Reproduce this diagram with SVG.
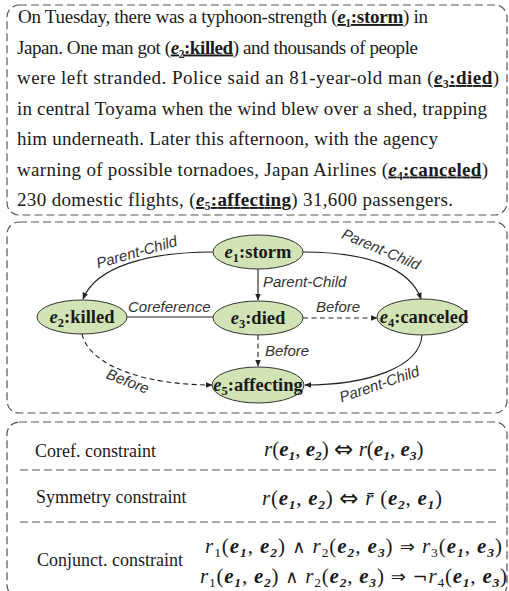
<svg xmlns="http://www.w3.org/2000/svg" width="509" height="591" viewBox="0 0 509 591">
<defs>
<style>
.box{fill:none;stroke:#555;stroke-width:1.2;stroke-dasharray:8 4}
.sep{fill:none;stroke:#555;stroke-width:1.2;stroke-dasharray:8 4}
.para{font-family:"Liberation Serif","Times New Roman",serif;font-size:19px;fill:#1a1a1a}
.m{font-weight:bold;text-decoration:underline}
.i{font-style:italic}
.sb{font-size:12.5px}
.node ellipse{fill:#d2e3b6;stroke:#333;stroke-width:1}
.nl{font-family:"Liberation Serif","Times New Roman",serif;font-size:18.5px;font-weight:bold;fill:#1a1a1a;text-anchor:middle}
.el{font-family:"Liberation Sans",Arial,sans-serif;font-size:15px;font-style:italic;fill:#333}
.edge{fill:none;stroke:#222;stroke-width:1.1}
.dash{stroke-dasharray:5 3.5}
.lab{font-family:"Liberation Serif","Times New Roman",serif;font-size:18px;fill:#1a1a1a}
.f{font-family:"Liberation Serif","DejaVu Serif",serif;font-size:21px;fill:#1a1a1a}
.fe{font-weight:bold;font-style:italic}
.fs{font-size:13.5px}
.op{font-family:"DejaVu Sans",sans-serif;font-size:18px}
.dop{font-family:"DejaVu Sans",sans-serif;font-size:23px}
</style>
<marker id="ah" viewBox="0 0 10 10" refX="9" refY="5" markerWidth="7" markerHeight="7" orient="auto" markerUnits="userSpaceOnUse">
<path d="M0,1 L10,5 L0,9 z" fill="#222"/>
</marker>
</defs>

<!-- Box 1: passage -->
<g id="passage">
<rect class="box" x="7" y="5" width="500" height="210" rx="12"/>
<text class="para" x="18" y="23" textLength="410" lengthAdjust="spacing">On Tuesday, there was a typhoon-strength (<tspan class="m"><tspan class="i">e</tspan>₁:storm</tspan>) in</text>
<text class="para" x="17" y="53.5" textLength="401" lengthAdjust="spacing">Japan. One man got (<tspan class="m"><tspan class="i">e</tspan>₂:killed</tspan>) and thousands of people</text>
<text class="para" x="17" y="84" textLength="482" lengthAdjust="spacing">were left stranded. Police said an 81-year-old man (<tspan class="m"><tspan class="i">e</tspan>₃:died</tspan>)</text>
<text class="para" x="17" y="114.5" textLength="470" lengthAdjust="spacing">in central Toyama when the wind blew over a shed, trapping</text>
<text class="para" x="17" y="145" textLength="421" lengthAdjust="spacing">him underneath. Later this afternoon, with the agency</text>
<text class="para" x="17" y="175.5" textLength="471" lengthAdjust="spacing">warning of possible tornadoes, Japan Airlines (<tspan class="m"><tspan class="i">e</tspan>₄:canceled</tspan>)</text>
<text class="para" x="17" y="206" textLength="436" lengthAdjust="spacing">230 domestic flights, (<tspan class="m"><tspan class="i">e</tspan>₅:affecting</tspan>) 31,600 passengers.</text>
</g>

<!-- Box 2: graph -->
<rect id="graph-box" class="box" x="7" y="222" width="500" height="191" rx="12"/>

<g id="connectors">
<path class="edge" d="M213,252 C150,252 96,266 83,299" marker-end="url(#ah)"/>
<path class="edge" d="M303,252 C368,252 410,268 421,299" marker-end="url(#ah)"/>
<path class="edge" d="M258,269 L258,300" marker-end="url(#ah)"/>
<path class="edge" d="M127,317 L213,317"/>
<path class="edge dash" d="M303,318 L377,318" marker-end="url(#ah)"/>
<path class="edge dash" d="M258,335 L258,366" marker-end="url(#ah)"/>
<path class="edge dash" d="M82,334 C90,368 150,385 212,385" marker-end="url(#ah)"/>
<path class="edge" d="M422,335 C420,368 366,385 305,385" marker-end="url(#ah)"/>
<text class="el" transform="translate(138,257) rotate(-16)" text-anchor="middle">Parent-Child</text>
<text class="el" transform="translate(379,254) rotate(23)" text-anchor="middle">Parent-Child</text>
<text class="el" x="263" y="287">Parent-Child</text>
<text class="el" x="128" y="312">Coreference</text>
<text class="el" x="316" y="312">Before</text>
<text class="el" x="265" y="356">Before</text>
<text class="el" transform="translate(126,386) rotate(21)" text-anchor="middle">Before</text>
<text class="el" transform="translate(381,389) rotate(-19)" text-anchor="middle">Parent-Child</text>
</g>

<g id="e1" class="node"><ellipse cx="258" cy="252" rx="45" ry="17"/><text class="nl" x="258" y="258"><tspan class="i">e</tspan><tspan class="sb" dy="4">1</tspan><tspan dy="-4">:storm</tspan></text></g>
<g id="e2" class="node"><ellipse cx="82" cy="317" rx="45" ry="17"/><text class="nl" x="82" y="323"><tspan class="i">e</tspan><tspan class="sb" dy="4">2</tspan><tspan dy="-4">:killed</tspan></text></g>
<g id="e3" class="node"><ellipse cx="258" cy="318" rx="45" ry="17"/><text class="nl" x="258" y="324"><tspan class="i">e</tspan><tspan class="sb" dy="4">3</tspan><tspan dy="-4">:died</tspan></text></g>
<g id="e4" class="node"><ellipse cx="422" cy="317" rx="45" ry="18"/><text class="nl" x="424" y="323"><tspan class="i">e</tspan><tspan class="sb" dy="4">4</tspan><tspan dy="-4">:canceled</tspan></text></g>
<g id="e5" class="node"><ellipse cx="258" cy="385" rx="46" ry="18"/><text class="nl" x="258" y="391"><tspan class="i">e</tspan><tspan class="sb" dy="4">5</tspan><tspan dy="-4">:affecting</tspan></text></g>

<!-- Box 3: constraints -->
<g id="constraints">
<rect class="box" x="7" y="422" width="500" height="175" rx="12"/>
<line class="sep" x1="20" y1="470" x2="496" y2="470"/>
<line class="sep" x1="20" y1="522" x2="496" y2="522"/>
<text class="lab" x="35" y="457">Coref. constraint</text>
<text class="lab" x="36" y="503">Symmetry constraint</text>
<text class="lab" x="37" y="566">Conjunct. constraint</text>
<text class="f" x="264" y="456"><tspan class="i">r</tspan>(<tspan class="fe">e</tspan><tspan class="fe fs" dy="4">1</tspan><tspan dy="-4">, </tspan><tspan class="fe">e</tspan><tspan class="fe fs" dy="4">2</tspan><tspan dy="-4">) </tspan><tspan class="dop" dy="1">⇔</tspan><tspan dy="-1"> </tspan><tspan class="i">r</tspan>(<tspan class="fe">e</tspan><tspan class="fe fs" dy="4">1</tspan><tspan dy="-4">, </tspan><tspan class="fe">e</tspan><tspan class="fe fs" dy="4">3</tspan><tspan dy="-4">)</tspan></text>
<text class="f" x="262" y="505" textLength="180" lengthAdjust="spacing"><tspan class="i">r</tspan>(<tspan class="fe">e</tspan><tspan class="fe fs" dy="4">1</tspan><tspan dy="-4">, </tspan><tspan class="fe">e</tspan><tspan class="fe fs" dy="4">2</tspan><tspan dy="-4">) </tspan><tspan class="dop" dy="1">⇔</tspan><tspan dy="-1"> </tspan><tspan class="i">r̄</tspan> (<tspan class="fe">e</tspan><tspan class="fe fs" dy="4">2</tspan><tspan dy="-4">, </tspan><tspan class="fe">e</tspan><tspan class="fe fs" dy="4">1</tspan><tspan dy="-4">)</tspan></text>
<text class="f" x="205" y="553" textLength="297" lengthAdjust="spacing"><tspan class="i">r</tspan><tspan class="fs" dy="4">1</tspan><tspan dy="-4">(</tspan><tspan class="fe">e</tspan><tspan class="fe fs" dy="4">1</tspan><tspan dy="-4">, </tspan><tspan class="fe">e</tspan><tspan class="fe fs" dy="4">2</tspan><tspan dy="-4">) </tspan><tspan class="op">∧</tspan> <tspan class="i">r</tspan><tspan class="fs" dy="4">2</tspan><tspan dy="-4">(</tspan><tspan class="fe">e</tspan><tspan class="fe fs" dy="4">2</tspan><tspan dy="-4">, </tspan><tspan class="fe">e</tspan><tspan class="fe fs" dy="4">3</tspan><tspan dy="-4">) </tspan><tspan class="op">⇒</tspan> <tspan class="i">r</tspan><tspan class="fs" dy="4">3</tspan><tspan dy="-4">(</tspan><tspan class="fe">e</tspan><tspan class="fe fs" dy="4">1</tspan><tspan dy="-4">, </tspan><tspan class="fe">e</tspan><tspan class="fe fs" dy="4">3</tspan><tspan dy="-4">)</tspan></text>
<text class="f" x="200" y="583" textLength="307" lengthAdjust="spacing"><tspan class="i">r</tspan><tspan class="fs" dy="4">1</tspan><tspan dy="-4">(</tspan><tspan class="fe">e</tspan><tspan class="fe fs" dy="4">1</tspan><tspan dy="-4">, </tspan><tspan class="fe">e</tspan><tspan class="fe fs" dy="4">2</tspan><tspan dy="-4">) </tspan><tspan class="op">∧</tspan> <tspan class="i">r</tspan><tspan class="fs" dy="4">2</tspan><tspan dy="-4">(</tspan><tspan class="fe">e</tspan><tspan class="fe fs" dy="4">2</tspan><tspan dy="-4">, </tspan><tspan class="fe">e</tspan><tspan class="fe fs" dy="4">3</tspan><tspan dy="-4">) </tspan><tspan class="op">⇒</tspan> <tspan class="op">¬</tspan><tspan class="i">r</tspan><tspan class="fs" dy="4">4</tspan><tspan dy="-4">(</tspan><tspan class="fe">e</tspan><tspan class="fe fs" dy="4">1</tspan><tspan dy="-4">, </tspan><tspan class="fe">e</tspan><tspan class="fe fs" dy="4">3</tspan><tspan dy="-4">)</tspan></text>
</g>
</svg>
